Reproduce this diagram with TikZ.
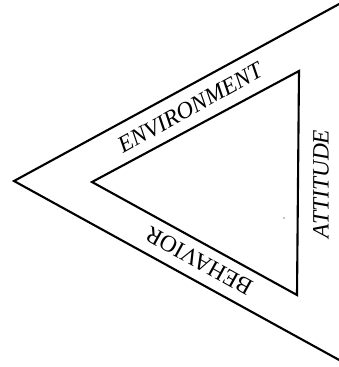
\documentclass[tikz,border=0pt]{standalone}
\usepackage{fontspec}
\setmainfont{Liberation Serif}
\usepackage{tikz}
\usetikzlibrary{calc}

\begin{document}
\begin{tikzpicture}[x=0.03cm, y=-0.03cm]
        \tikzset{
            edge/.style={line width=1.8pt, line join=miter},
            sidelabel/.style={font=\fontsize{20}{22}\selectfont, inner sep=0pt}
        }
        \useasboundingbox (0,0) rectangle (339,367);
        \clip (0,0) rectangle (339,367);

        % Outer wedge
        \coordinate (otop) at (341,3);
        \coordinate (oleft) at (14,181);
        \coordinate (obot) at (341,361);
        \draw[edge] (otop) -- (oleft) -- (obot);

        % Inner triangle
        \coordinate (itop) at (299,71);
        \coordinate (ileft) at (92,182);
        \coordinate (ibot) at (297,295);
        \draw[edge] (itop) -- (ileft) -- (ibot) -- cycle;

        % Labels along the sides
        \node[sidelabel, rotate=29] (env) at (190,108) {\itshape ENVIRONMENT};
        \node[sidelabel, rotate=90] (att) at (321,184) {\itshape ATTITUDE};
        \node[sidelabel, rotate=151] (beh) at (199,261) {BEHAVIOR};

        % speck
        \fill (284,218) circle (0.6);
    \end{tikzpicture}
\end{document}
